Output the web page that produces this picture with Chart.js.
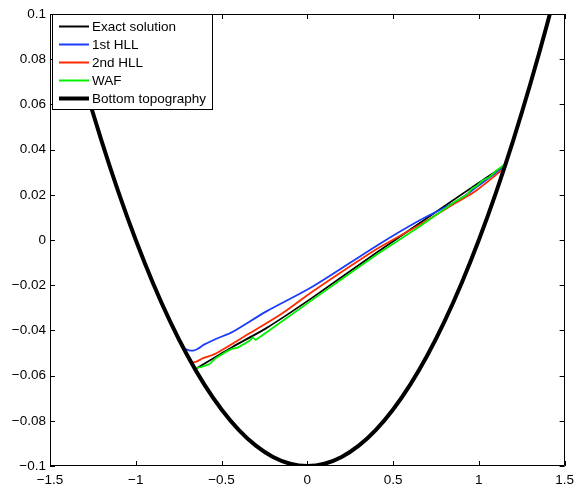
<!DOCTYPE html>
<html>
<head>
<meta charset="utf-8">
<script src="https://cdn.jsdelivr.net/npm/chart.js@4"></script>
<style>
  html, body { margin: 0; padding: 0; background: #fff; }
  #wrap { width: 580px; height: 491px; position: relative; }
</style>
</head>
<body>
<div id="wrap"><canvas id="c" width="580" height="491"></canvas></div>
<script>
// ---- data ----
const seriesNames = ['Exact solution', '1st HLL', '2nd HLL', 'WAF', 'Bottom topography'];

const topoX = [-1.5,-1.4,-1.3,-1.2,-1.1,-1.0,-0.9,-0.8,-0.7,-0.6,-0.5,-0.4,-0.3,-0.2,-0.1,0,
               0.1,0.2,0.3,0.4,0.5,0.6,0.7,0.8,0.9,1.0,1.1,1.2,1.3,1.4,1.5];
const topoY = [0.125,0.096,0.069,0.044,0.021,0.0,-0.019,-0.036,-0.051,-0.064,-0.075,-0.084,-0.091,-0.096,-0.099,-0.100,
               -0.099,-0.096,-0.091,-0.084,-0.075,-0.064,-0.051,-0.036,-0.019,0.0,0.021,0.044,0.069,0.096,0.125];

const exactX = [-0.655, -0.434, -0.241, 0.03, 0.405, 0.983, 1.152];
const exactY = [-0.0572, -0.0472, -0.0391, -0.0255, -0.0055, 0.0245, 0.0330];

const hll1X = [-0.715,-0.69,-0.665,-0.64,-0.6,-0.53,-0.434,-0.241,0.029,0.405,0.65,0.867,0.983,1.152];
const hll1Y = [-0.0482,-0.0488,-0.0489,-0.0482,-0.0462,-0.0437,-0.0406,-0.0317,-0.0207,-0.0025,0.0085,0.0170,0.0232,0.0328];

const hll2X = [-0.665,-0.646,-0.607,-0.53,-0.337,-0.145,0.029,0.405,0.65,0.867,0.983,1.127,1.145];
const hll2Y = [-0.0541,-0.0538,-0.0523,-0.0501,-0.0413,-0.0324,-0.0229,-0.0040,0.0065,0.0165,0.0218,0.0305,0.0320];

const wafX = [-0.655,-0.62,-0.595,-0.568,-0.532,-0.472,-0.44,-0.405,-0.337,-0.318,-0.301,-0.241,-0.12,0.029,0.405,0.65,0.867,0.93,0.96,0.983,1.02,1.06,1.1,1.152];
const wafY = [-0.0567,-0.0562,-0.0556,-0.0548,-0.0522,-0.0494,-0.0482,-0.0476,-0.0446,-0.0432,-0.0442,-0.0410,-0.0345,-0.0265,-0.0064,0.0058,0.0172,0.0200,0.0228,0.0236,0.0262,0.0278,0.0305,0.0335];

const xTicks = [-1.5,-1,-0.5,0,0.5,1,1.5];
const xTickLabels = ['\u22121.5','\u22121','\u22120.5','0','0.5','1','1.5'];
const yTicks = [-0.1,-0.08,-0.06,-0.04,-0.02,0,0.02,0.04,0.06,0.08,0.1];
const yTickLabels = ['\u22120.1','\u22120.08','\u22120.06','\u22120.04','\u22120.02','0','0.02','0.04','0.06','0.08','0.1'];

// ---- build chart ----
const pts = (xs, ys) => xs.map((x, i) => ({x: x, y: ys[i]}));
const FONT = "'Liberation Sans', Arial, Helvetica, sans-serif";

const datasets = [
  {label: seriesNames[0], data: pts(exactX, exactY), borderColor: '#000000', borderWidth: 1.8, order: 5, tension: 0.2},
  {label: seriesNames[1], data: pts(hll1X, hll1Y), borderColor: '#1a3cff', borderWidth: 1.8, order: 4, tension: 0.3},
  {label: seriesNames[2], data: pts(hll2X, hll2Y), borderColor: '#ff2a00', borderWidth: 1.8, order: 3, tension: 0.3},
  {label: seriesNames[3], data: pts(wafX, wafY), borderColor: '#00f000', borderWidth: 1.8, order: 2, tension: 0},
  {label: seriesNames[4], data: pts(topoX, topoY), borderColor: '#000000', borderWidth: 4, order: 1, cubicInterpolationMode: 'monotone'}
];
datasets.forEach(d => { d.pointRadius = 0; d.fill = false; d.clip = 0; });

const framePlugin = {
  id: 'frame',
  afterDraw(chart) {
    const ctx = chart.ctx;
    const {left, right, top, bottom} = chart.chartArea;
    const xs = chart.scales.x, ys = chart.scales.y;
    ctx.save();
    ctx.strokeStyle = '#000';
    ctx.lineWidth = 1;
    ctx.beginPath();
    ctx.rect(Math.round(left) + 0.5, Math.round(top) + 0.5, Math.round(right - left) - 1, Math.round(bottom - top) - 1);
    ctx.stroke();
    const tl = 5;
    ctx.beginPath();
    xTicks.forEach(v => {
      const p = Math.round(xs.getPixelForValue(v)) + 0.5;
      ctx.moveTo(p, bottom); ctx.lineTo(p, bottom - tl);
      ctx.moveTo(p, top); ctx.lineTo(p, top + tl);
    });
    yTicks.forEach(v => {
      const p = Math.round(ys.getPixelForValue(v)) + 0.5;
      ctx.moveTo(left, p); ctx.lineTo(left + tl, p);
      ctx.moveTo(right, p); ctx.lineTo(right - tl, p);
    });
    ctx.stroke();

    // legend box (MATLAB style, inside the axes)
    const bx = 52.5, by = 14.5, bw = 160, bh = 95;
    ctx.fillStyle = '#fff';
    ctx.fillRect(bx, by, bw, bh);
    ctx.strokeStyle = '#000';
    ctx.lineWidth = 1;
    ctx.strokeRect(bx, by, bw, bh);
    const rowY = [26.5, 44.5, 62.5, 80.5, 98.5];
    ctx.font = '13.5px ' + FONT;
    ctx.textBaseline = 'middle';
    ctx.textAlign = 'left';
    chart.data.datasets.forEach((d, i) => {
      ctx.strokeStyle = d.borderColor;
      ctx.lineWidth = d.borderWidth === 4 ? 4 : 2;
      ctx.beginPath();
      ctx.moveTo(59, rowY[i]);
      ctx.lineTo(89, rowY[i]);
      ctx.stroke();
      ctx.fillStyle = '#000';
      ctx.fillText(d.label, 92, rowY[i] + 0.5);
    });
    ctx.restore();
  }
};

new Chart(document.getElementById('c'), {
  type: 'line',
  data: {datasets: datasets},
  plugins: [framePlugin],
  options: {
    responsive: false,
    animation: false,
    events: [],
    layout: {padding: {top: 14, right: 10, left: 0, bottom: 0}},
    plugins: {legend: {display: false}, tooltip: {enabled: false}},
    scales: {
      x: {
        type: 'linear', min: -1.5, max: 1.5,
        grid: {display: false, drawTicks: false},
        border: {display: false},
        afterBuildTicks: s => { s.ticks = xTicks.map(v => ({value: v})); },
        afterFit: s => { s.height = 25; },
        ticks: {
          padding: 6, color: '#000', maxRotation: 0, autoSkip: false,
          font: {family: FONT, size: 13.5},
          callback: (v) => { const i = xTicks.findIndex(t => Math.abs(t - v) < 1e-9); return i >= 0 ? xTickLabels[i] : ''; }
        }
      },
      y: {
        type: 'linear', min: -0.1, max: 0.1,
        grid: {display: false, drawTicks: false},
        border: {display: false},
        afterBuildTicks: s => { s.ticks = yTicks.map(v => ({value: v})); },
        afterFit: s => { s.width = 50; },
        ticks: {
          padding: 4, color: '#000', autoSkip: false,
          font: {family: FONT, size: 13.5},
          callback: (v) => { const i = yTicks.findIndex(t => Math.abs(t - v) < 1e-9); return i >= 0 ? yTickLabels[i] : ''; }
        }
      }
    }
  }
});
</script>
</body>
</html>
